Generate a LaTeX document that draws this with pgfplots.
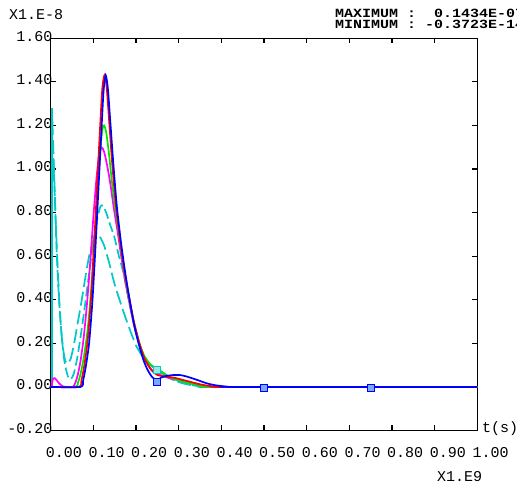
\documentclass[border=0pt]{standalone}
\usepackage{fontspec}
\setmainfont{Liberation Mono}
\newfontfamily\hdrfont[FakeStretch=1.2]{Liberation Mono Bold}
\usepackage{pgfplots}
\pgfplotsset{compat=1.18}
\definecolor{cyn}{RGB}{0,200,200}
\definecolor{mag}{RGB}{255,0,255}
\definecolor{grn}{RGB}{0,230,0}
\definecolor{mkfill}{RGB}{120,170,255}

\begin{document}
\fontsize{15bp}{18bp}\selectfont
\begin{tikzpicture}
\useasboundingbox (0,0) rectangle (517bp,489bp);
\begin{axis}[
    at={(50.7bp,58.5bp)}, anchor=south west,
    scale only axis,
    width=426.6bp, height=392.2bp,
    xmin=0, xmax=1, ymin=-0.2, ymax=1.6,
    xtick={0,0.1,0.2,0.3,0.4,0.5,0.6,0.7,0.8,0.9,1.0},
    ytick={-0.2,0,0.2,0.4,0.6,0.8,1.0,1.2,1.4,1.6},
    /pgf/number format/.cd, fixed, fixed zerofill, precision=2, assume math mode=true,
    /pgfplots/.cd,
    xticklabel style={anchor=north west, inner sep=0pt, xshift=-5bp, yshift=-17bp},
    yticklabel style={anchor=east, inner sep=0pt, xshift=2bp, yshift=2bp},
    major tick length=5bp,
    tick style={black, line width=1.2bp},
    axis line style={line width=1.5bp},
    every axis plot/.append style={line width=1.7bp},
    clip=true,
]

% cyan, solid strip at t=0
\addplot[cyn, line width=2.6bp, no marks] coordinates {(0.003,1.28) (0.003,0.0)};

% cyan, long dashes (peak ~0.69)
\addplot[cyn, no marks, smooth, tension=0.4, dash pattern=on 14bp off 5bp] coordinates {
(0.004,1.22) (0.008,0.98) (0.012,0.75) (0.017,0.52) (0.022,0.33) (0.028,0.19)
(0.034,0.12) (0.040,0.107) (0.047,0.13) (0.055,0.20) (0.063,0.29) (0.072,0.39)
(0.081,0.50) (0.090,0.60) (0.100,0.67) (0.108,0.695) (0.115,0.69) (0.125,0.65)
(0.137,0.57) (0.150,0.47) (0.163,0.39) (0.175,0.32) (0.188,0.25) (0.200,0.19)
(0.212,0.15) (0.225,0.115) (0.240,0.09) (0.250,0.08) (0.270,0.05) (0.290,0.03)
(0.310,0.017) (0.330,0.008) (0.360,0.002) (0.380,0) (1.0,0)
};

% cyan, shorter dashes (peak ~0.83)
\addplot[cyn, no marks, smooth, tension=0.4, dash pattern=on 10bp off 4bp] coordinates {
(0.006,1.05) (0.010,0.85) (0.014,0.62) (0.019,0.42) (0.025,0.25) (0.032,0.12)
(0.040,0.05) (0.047,0.035) (0.054,0.06) (0.062,0.13) (0.070,0.23) (0.078,0.34)
(0.086,0.46) (0.094,0.58) (0.102,0.69) (0.110,0.78) (0.117,0.83) (0.123,0.83)
(0.130,0.80) (0.140,0.74) (0.149,0.69) (0.160,0.60) (0.171,0.52) (0.185,0.38)
(0.200,0.25) (0.215,0.16) (0.230,0.11) (0.250,0.077) (0.265,0.055) (0.285,0.035)
(0.305,0.02) (0.330,0.008) (0.360,0.002) (0.380,0) (1.0,0)
};

% magenta
\addplot[mag, no marks, smooth, tension=0.4] coordinates {
(0.002,0.0) (0.005,0.035) (0.010,0.04) (0.018,0.02) (0.028,0.003) (0.040,0)
(0.052,0) (0.058,0.02) (0.064,0.06) (0.070,0.12) (0.077,0.22) (0.085,0.38)
(0.093,0.58) (0.100,0.78) (0.107,0.95) (0.113,1.06) (0.119,1.10) (0.125,1.08)
(0.132,1.02) (0.140,0.93) (0.148,0.82) (0.157,0.71) (0.166,0.59) (0.176,0.47)
(0.187,0.36) (0.198,0.26) (0.210,0.18) (0.222,0.12) (0.236,0.08) (0.250,0.06)
(0.270,0.045) (0.290,0.035) (0.310,0.025) (0.330,0.015) (0.360,0.005) (0.390,0) (1.0,0)
};

% green
\addplot[grn, no marks, smooth, tension=0.4] coordinates {
(0,0) (0.058,0) (0.064,0.02) (0.070,0.06) (0.078,0.14) (0.087,0.27) (0.095,0.45)
(0.103,0.68) (0.110,0.90) (0.116,1.08) (0.121,1.18) (0.125,1.20) (0.130,1.17)
(0.136,1.08) (0.143,0.95) (0.150,0.84) (0.160,0.70) (0.170,0.56) (0.182,0.42)
(0.195,0.30) (0.208,0.20) (0.220,0.14) (0.235,0.10) (0.250,0.085) (0.260,0.07)
(0.280,0.045) (0.300,0.03) (0.330,0.015) (0.360,0.005) (0.390,0) (1.0,0)
};

% red
\addplot[red, no marks, smooth, tension=0.4] coordinates {
(0,0) (0.066,0) (0.072,0.03) (0.079,0.10) (0.087,0.22) (0.095,0.42) (0.103,0.70)
(0.110,0.97) (0.116,1.20) (0.121,1.37) (0.126,1.43) (0.131,1.38) (0.137,1.22)
(0.144,1.03) (0.152,0.85) (0.162,0.68) (0.173,0.53) (0.185,0.40) (0.196,0.29)
(0.208,0.20) (0.220,0.13) (0.235,0.08) (0.250,0.055) (0.270,0.047) (0.290,0.042)
(0.310,0.032) (0.330,0.022) (0.350,0.012) (0.370,0.005) (0.390,0.001) (0.410,0) (1.0,0)
};

% blue
\addplot[blue, no marks, smooth, tension=0.4] coordinates {
(0,0) (0.070,0) (0.076,0.03) (0.082,0.09) (0.090,0.20) (0.098,0.40) (0.106,0.68)
(0.113,0.95) (0.119,1.18) (0.124,1.36) (0.129,1.43) (0.134,1.37) (0.140,1.21)
(0.147,1.02) (0.155,0.83) (0.165,0.66) (0.175,0.52) (0.185,0.40) (0.195,0.29)
(0.206,0.20) (0.218,0.12) (0.228,0.075) (0.238,0.045) (0.250,0.028) (0.258,0.042)
(0.270,0.05) (0.290,0.055) (0.305,0.054) (0.320,0.047) (0.345,0.031) (0.365,0.017)
(0.385,0.008) (0.410,0.002) (0.430,0) (1.0,0)
};

% markers
\addplot[only marks, mark=square*, mark size=3.5bp, mark options={draw=cyn, fill=cyn!40, line width=1.2bp}] coordinates {(0.25,0.077)};
\addplot[only marks, mark=square*, mark size=3.5bp, mark options={draw=blue, fill=mkfill, line width=1.2bp}] coordinates {
(0.25,0.022) (0.50,-0.006) (0.75,-0.006)
};
\end{axis}

\node[anchor=west, inner sep=0pt] at (9bp,474bp) {X1.E-8};
\node[anchor=west, inner sep=0pt, font=\hdrfont\fontsize{12.5bp}{13bp}\selectfont] at (335bp,476bp) {MAXIMUM~:~~0.1434E-07};
\node[anchor=west, inner sep=0pt, font=\hdrfont\fontsize{12.5bp}{13bp}\selectfont] at (335bp,465bp) {MINIMUM~:~-0.3723E-14};
\node[anchor=west, inner sep=0pt] at (482bp,60bp) {t(s)};
\node[anchor=west, inner sep=0pt] at (437bp,12bp) {X1.E9};
\end{tikzpicture}
\end{document}
